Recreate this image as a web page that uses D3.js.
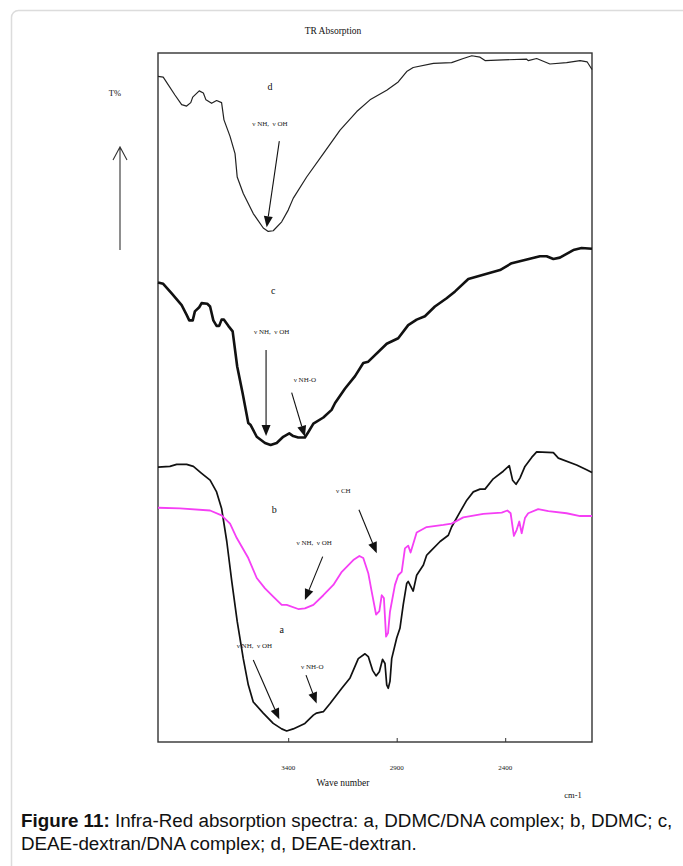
<!DOCTYPE html>
<html>
<head>
<meta charset="utf-8">
<script src="https://cdn.jsdelivr.net/npm/d3@7"></script>
<style>
  body { margin: 0; background: #fff; }
  svg { display: block; }
</style>
</head>
<body>
<div id="chart"></div>
<script>
// IR spectra, wave number (cm-1) vs T% (arbitrary, stacked)
var waveD = [4000,3976,3922,3891,3868,3849,3840,3810,3791,3779,3753,3730,3707,3696,3668,3645,3635,3607,3561,3515,3492,3469,3430,3400,3377,3315,3238,3161,3084,3023,2946,2893,2854,2824,2731,2647,2593,2554,2516,2493,2409,2301,2294,2255,2194,2117,2055,2022,2000];
var tD = [96.6,96.5,93.9,92.5,92.3,92.8,93.6,94.5,94.2,93.2,92.7,93.1,92.8,90.3,87.9,85.4,82.0,79.6,76.7,74.6,74.1,74.2,75.5,77.2,78.9,82.0,85.4,88.8,91.5,93.2,94.6,95.8,97.3,97.9,98.5,98.6,99.2,99.6,99.4,98.9,99.0,99.1,98.9,99.2,98.4,98.6,98.9,98.7,97.6];

var waveC = [4000,3976,3937,3891,3868,3856,3840,3830,3810,3799,3773,3760,3745,3730,3718,3707,3696,3676,3656,3635,3610,3584,3573,3545,3507,3481,3453,3423,3395,3377,3354,3323,3307,3284,3238,3200,3184,3138,3092,3054,3031,2946,2893,2847,2808,2770,2724,2670,2631,2570,2501,2424,2370,2240,2209,2178,2148,2086,2048,2000];
var tC = [66.7,66.5,65.1,63.4,62.0,61.2,61.2,62.5,63.1,63.7,63.6,63.2,61.2,60.4,60.4,61.3,61.3,60.4,59.6,54.5,50.6,46.3,46.0,44.3,43.4,43.1,43.4,44.3,44.8,44.4,44.2,44.2,45.0,46.2,47.1,48.2,49.2,51.3,53.1,55.0,55.2,57.8,58.6,60.5,61.3,61.8,63.2,64.4,65.4,67.2,67.8,68.5,69.5,70.5,70.5,70.1,70.3,71.4,71.7,71.6];

var waveB = [4000,3899,3760,3707,3668,3637,3584,3545,3507,3469,3430,3407,3354,3323,3284,3238,3192,3153,3100,3072,3054,3031,3015,2995,2980,2969,2959,2949,2940,2931,2908,2893,2877,2862,2847,2836,2808,2762,2685,2647,2593,2501,2416,2390,2375,2360,2347,2335,2324,2309,2294,2248,2201,2117,2055,2000];
var tB = [34.0,33.9,33.6,32.9,31.7,29.6,26.7,23.8,22.3,21.1,19.9,19.9,19.3,19.4,19.9,21.3,22.8,24.7,26.4,27.0,26.7,24.5,21.8,18.5,19.0,21.3,20.9,15.3,15.8,18.9,22.8,24.2,24.7,28.1,28.5,27.5,30.4,31.2,31.5,31.7,32.6,33.1,33.3,33.6,33.2,29.9,30.8,32.0,30.3,32.5,33.2,33.8,33.5,33.2,32.8,32.8];

var waveA = [4000,3945,3914,3868,3837,3799,3760,3730,3707,3683,3660,3635,3607,3584,3561,3515,3469,3430,3407,3377,3323,3284,3269,3238,3207,3153,3115,3077,3046,3031,3011,2995,2980,2965,2954,2946,2939,2931,2923,2900,2885,2870,2854,2847,2824,2808,2777,2762,2747,2700,2662,2647,2608,2577,2547,2516,2493,2455,2409,2381,2366,2350,2332,2309,2278,2255,2178,2155,2071,2025,2000];
var tA = [39.9,40.0,40.3,40.3,40.0,39.0,38.0,36.3,33.9,29.1,23.3,17.5,12.1,8.3,5.8,4.2,2.7,1.9,1.6,1.9,2.7,3.9,4.2,4.4,5.6,7.8,9.3,12.1,12.8,12.4,10.4,9.6,10.2,12.0,11.4,8.3,7.8,8.8,12.1,15.1,16.5,19.9,23.0,23.3,21.9,24.2,25.7,27.1,27.6,29.1,30.0,31.2,33.4,35.1,36.3,36.7,36.7,38.2,39.3,40.1,38.0,37.4,38.3,40.0,41.3,42.1,42.0,41.2,40.2,39.5,39.1];

var xTicks = [3400, 2900, 2400];

// curve letters and band labels: [wave, T, text]
var curveLabels = [[3484, 95.1, "d"], [3469, 65.6, "c"], [3464, 33.8, "b"], [3430, 16.4, "a"]];
var bandLabels = [
  [3484, 89.7, "\u03bd NH,  \u03bd OH"],
  [3476, 59.6, "\u03bd NH,  \u03bd OH"],
  [3323, 52.6, "\u03bd NH-O"],
  [3146, 36.5, "\u03bd CH"],
  [3280, 28.9, "\u03bd NH,  \u03bd OH"],
  [3556, 14.0, "\u03bd NH,  \u03bd OH"],
  [3289, 10.9, "\u03bd NH-O"]
];
// arrows: [wave1, T1, wave2, T2] (tip at 2)
var bandArrows = [
  [3441, 87.2, 3499, 74.7],
  [3502, 56.9, 3502, 44.4],
  [3384, 50.7, 3323, 44.3],
  [3074, 33.7, 2992, 27.4],
  [3241, 26.9, 3323, 20.6],
  [3561, 11.9, 3441, 3.3],
  [3318, 9.7, 3269, 5.6]
];

var width = 683, height = 866;
var plotLeft = 158, plotRight = 592, plotTop = 53, plotBottom = 742;

var svg = d3.select("#chart").append("svg")
    .attr("width", width)
    .attr("height", height);

// card frame
svg.append("rect")
    .attr("x", 11.5).attr("y", 10.5)
    .attr("width", 720).attr("height", 900)
    .attr("rx", 7)
    .attr("fill", "none")
    .attr("stroke", "#dcdcdc")
    .attr("stroke-width", 1.5);

var x = d3.scaleLinear().domain([4000, 2000]).range([plotLeft, plotRight]);
var y = d3.scaleLinear().domain([0, 100]).range([plotBottom, plotTop]);

var serif = "'Liberation Serif', 'Times New Roman', serif";

// title
svg.append("text")
    .attr("x", 333).attr("y", 34)
    .attr("text-anchor", "middle")
    .attr("font-family", serif).attr("font-size", 9.5)
    .attr("fill", "#111")
    .text("TR Absorption");

// plot box
svg.append("rect")
    .attr("x", plotLeft).attr("y", plotTop)
    .attr("width", plotRight - plotLeft).attr("height", plotBottom - plotTop)
    .attr("fill", "none")
    .attr("stroke", "#333")
    .attr("stroke-width", 1.4);

// x ticks pointing up into the plot, labels further below
var xAxis = d3.axisTop(x).tickValues(xTicks).tickSize(4).tickFormat("");
svg.append("g")
    .attr("transform", "translate(0," + plotBottom + ")")
    .call(xAxis)
    .call(function(g) { g.select(".domain").remove(); })
    .selectAll("line").attr("stroke", "#333");

svg.append("g").selectAll("text")
    .data(xTicks)
    .enter().append("text")
    .attr("x", function(d) { return x(d); })
    .attr("y", 770)
    .attr("text-anchor", "middle")
    .attr("font-family", serif).attr("font-size", 7)
    .attr("fill", "#222")
    .text(function(d) { return d; });

svg.append("text")
    .attr("x", 343).attr("y", 786)
    .attr("text-anchor", "middle")
    .attr("font-family", serif).attr("font-size", 9.5)
    .attr("fill", "#111")
    .text("Wave number");

svg.append("text")
    .attr("x", 573).attr("y", 798)
    .attr("text-anchor", "middle")
    .attr("font-family", serif).attr("font-size", 8.5)
    .attr("fill", "#111")
    .text("cm-1");

// T% with open arrow
svg.append("text")
    .attr("x", 115).attr("y", 96)
    .attr("text-anchor", "middle")
    .attr("font-family", serif).attr("font-size", 8.5)
    .attr("fill", "#111")
    .text("T%");
svg.append("path")
    .attr("d", "M120,250V147M113,160L120,147L127,160")
    .attr("fill", "none")
    .attr("stroke", "#333")
    .attr("stroke-width", 1.1);

// spectra
var line = d3.line()
    .x(function(d) { return x(d[0]); })
    .y(function(d) { return y(d[1]); });

var series = [
  {w: waveD, t: tD, color: "#222", sw: 1.2},
  {w: waveC, t: tC, color: "#111", sw: 2.6},
  {w: waveA, t: tA, color: "#111", sw: 1.7},
  {w: waveB, t: tB, color: "#f53ff5", sw: 1.8}
];

svg.append("g").selectAll("path")
    .data(series)
    .enter().append("path")
    .attr("d", function(s) { return line(d3.zip(s.w, s.t)); })
    .attr("fill", "none")
    .attr("stroke", function(s) { return s.color; })
    .attr("stroke-width", function(s) { return s.sw; })
    .attr("stroke-linejoin", "round");

// labels
svg.append("g").selectAll("text")
    .data(curveLabels)
    .enter().append("text")
    .attr("x", function(d) { return x(d[0]); })
    .attr("y", function(d) { return y(d[1]); })
    .attr("dy", "0.35em")
    .attr("text-anchor", "middle")
    .attr("font-family", serif).attr("font-size", 10)
    .attr("fill", "#111")
    .text(function(d) { return d[2]; });

svg.append("g").selectAll("text")
    .data(bandLabels)
    .enter().append("text")
    .attr("x", function(d) { return x(d[0]); })
    .attr("y", function(d) { return y(d[1]); })
    .attr("dy", "0.35em")
    .attr("text-anchor", "middle")
    .attr("font-family", serif).attr("font-size", 7)
    .attr("fill", "#222")
    .style("white-space", "pre")
    .text(function(d) { return d[2]; });

// arrows with filled heads
var arrowG = svg.append("g");
bandArrows.forEach(function(a) {
  var x1 = x(a[0]), y1 = y(a[1]), x2 = x(a[2]), y2 = y(a[3]);
  var ang = Math.atan2(y2 - y1, x2 - x1);
  var len = 11, half = 4.5;
  var bx = x2 - len * Math.cos(ang), by = y2 - len * Math.sin(ang);
  arrowG.append("line")
      .attr("x1", x1).attr("y1", y1).attr("x2", bx).attr("y2", by)
      .attr("stroke", "#111").attr("stroke-width", 1.1);
  var px = -Math.sin(ang) * half, py = Math.cos(ang) * half;
  arrowG.append("path")
      .attr("d", "M" + x2 + "," + y2 + "L" + (bx + px) + "," + (by + py) + "L" + (bx - px) + "," + (by - py) + "Z")
      .attr("fill", "#111");
});

// caption
var capFont = "'Liberation Sans', Arial, sans-serif";
var cap = svg.append("text")
    .attr("x", 21).attr("y", 827)
    .attr("font-family", capFont)
    .attr("font-size", 18.8)
    .attr("fill", "#111");
cap.append("tspan").attr("font-weight", "bold").text("Figure 11:");
cap.append("tspan").text(" Infra-Red absorption spectra: a, DDMC/DNA complex; b, DDMC; c,");
svg.append("text")
    .attr("x", 21).attr("y", 850)
    .attr("font-family", capFont)
    .attr("font-size", 18.8)
    .attr("fill", "#111")
    .text("DEAE-dextran/DNA complex; d, DEAE-dextran.");
</script>
</body>
</html>
